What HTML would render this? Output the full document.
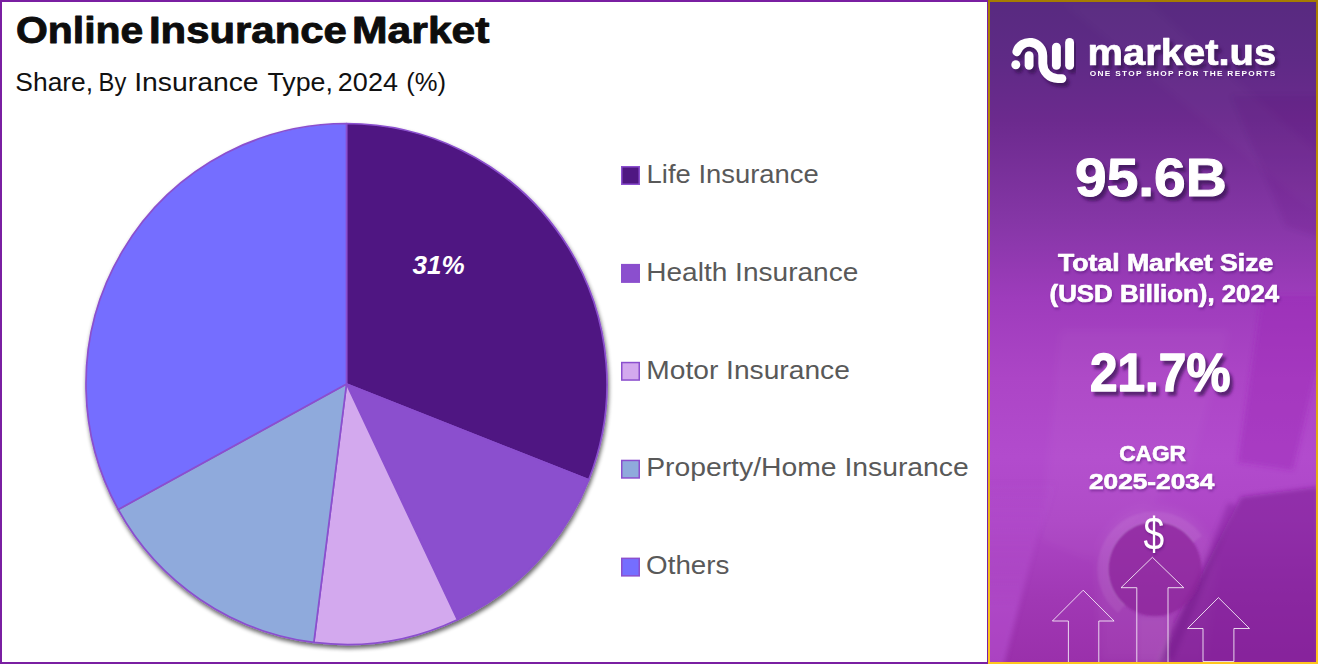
<!DOCTYPE html>
<html lang="en">
<head>
<meta charset="utf-8">
<title>Online Insurance Market</title>
<style>
  html, body { margin: 0; padding: 0; background: #ffffff; }
  body { width: 1318px; height: 664px; overflow: hidden; position: relative; }
  svg { position: absolute; left: 0; top: 0; display: block; }
  text { font-family: "Liberation Sans", sans-serif; }
  .b { font-weight: bold; }
  .leg { fill: #595959; font-size: 25.5px; }
  .w { fill: #ffffff; }
</style>
</head>
<body>
<svg width="1318" height="664" viewBox="0 0 1318 664">
  <defs>
    <linearGradient id="gold" x1="0" y1="0" x2="0" y2="1">
      <stop offset="0" stop-color="#a67c00"/>
      <stop offset="1" stop-color="#ffc61e"/>
    </linearGradient>
    <linearGradient id="panel" x1="0" y1="0" x2="0" y2="1">
      <stop offset="0" stop-color="#582a80"/>
      <stop offset="0.09" stop-color="#5f2a86"/>
      <stop offset="0.18" stop-color="#6c2a8e"/>
      <stop offset="0.33" stop-color="#8536a6"/>
      <stop offset="0.45" stop-color="#9e3cbc"/>
      <stop offset="0.57" stop-color="#ac45c6"/>
      <stop offset="0.69" stop-color="#b24bcd"/>
      <stop offset="0.785" stop-color="#ad46c6"/>
      <stop offset="0.905" stop-color="#a038b4"/>
      <stop offset="1" stop-color="#9a30ab"/>
    </linearGradient>
    <filter id="pieShadow" x="-5%" y="-5%" width="110%" height="110%">
      <feGaussianBlur in="SourceAlpha" stdDeviation="2"/>
      <feOffset dx="0.5" dy="2.5" result="o"/>
      <feComponentTransfer><feFuncA type="linear" slope="0.6"/></feComponentTransfer>
      <feMerge><feMergeNode/><feMergeNode in="SourceGraphic"/></feMerge>
    </filter>
    <filter id="txtShadow" x="-10%" y="-20%" width="120%" height="150%">
      <feGaussianBlur in="SourceAlpha" stdDeviation="1.7"/>
      <feOffset dx="2.5" dy="3.5" result="off"/>
      <feFlood flood-color="#35104f" flood-opacity="0.7"/>
      <feComposite in2="off" operator="in"/>
    </filter>
    <filter id="txtShadowS" x="-10%" y="-30%" width="120%" height="170%">
      <feGaussianBlur in="SourceAlpha" stdDeviation="1.2"/>
      <feOffset dx="1" dy="1.5" result="off"/>
      <feFlood flood-color="#3a0f5c" flood-opacity="0.35"/>
      <feComposite in2="off" operator="in"/>
    </filter>
    <filter id="soft" x="-20%" y="-20%" width="140%" height="140%"><feGaussianBlur stdDeviation="5"/></filter>
    <filter id="soft3" x="-20%" y="-20%" width="140%" height="140%"><feGaussianBlur stdDeviation="2.5"/></filter>
    <filter id="soft2" x="-20%" y="-20%" width="140%" height="140%"><feGaussianBlur stdDeviation="1.3"/></filter>
    <linearGradient id="arrowFill" gradientUnits="userSpaceOnUse" x1="0" y1="560" x2="0" y2="664">
      <stop offset="0" stop-color="#ffffff" stop-opacity="0"/>
      <stop offset="1" stop-color="#ffffff" stop-opacity="0.12"/>
    </linearGradient>
    <linearGradient id="paperFill" gradientUnits="userSpaceOnUse" x1="0" y1="480" x2="0" y2="610">
      <stop offset="0" stop-color="#c25ee0" stop-opacity="0"/>
      <stop offset="1" stop-color="#c25ee0" stop-opacity="0.42"/>
    </linearGradient>
    <clipPath id="rpClip"><rect x="990" y="2" width="326" height="660"/></clipPath>
  </defs>

  <!-- ===== left panel frame ===== -->
  <rect x="1" y="1" width="987" height="662" fill="#ffffff" stroke="#7a1fa2" stroke-width="2"/>

  <!-- ===== pie ===== -->
  <g id="pie" filter="url(#pieShadow)" stroke="#8b4fce" stroke-width="1.7" stroke-linejoin="round">
    <path d="M346.5 384L346.50 123.50A260.5 260.5 0 0 1 588.71 479.90Z" fill="#4f1782"/>
    <path d="M346.5 384L588.71 479.90A260.5 260.5 0 0 1 457.42 619.71Z" fill="#8b4fce"/>
    <path d="M346.5 384L457.42 619.71A260.5 260.5 0 0 1 313.85 642.45Z" fill="#d3a9ee"/>
    <path d="M346.5 384L313.85 642.45A260.5 260.5 0 0 1 118.22 509.50Z" fill="#8faadc"/>
    <path d="M346.5 384L118.22 509.50A260.5 260.5 0 0 1 346.50 123.50Z" fill="#756eff"/>
  </g>
  <!-- ===== legend ===== -->
  <g stroke="#8b4fce" stroke-width="1.5">
    <rect x="621.75" y="166.75" width="17.5" height="17.5" fill="#4f1782"/>
    <rect x="621.75" y="264.65" width="17.5" height="17.5" fill="#8b4fce"/>
    <rect x="621.75" y="362.55" width="17.5" height="17.5" fill="#d3a9ee"/>
    <rect x="621.75" y="460.45" width="17.5" height="17.5" fill="#8faadc"/>
    <rect x="621.75" y="558.35" width="17.5" height="17.5" fill="#756eff"/>
  </g>
  <!-- ===== left panel text ===== -->
  <g id="leftText">
    <text x="16.01" y="43.0" font-size="37.5" fill="#0d0d0d" textLength="127.31" lengthAdjust="spacingAndGlyphs" font-weight="bold" stroke="#0d0d0d" stroke-width="0.9" stroke-linejoin="round">Online</text>
    <text x="148.97" y="43.0" font-size="37.5" fill="#0d0d0d" textLength="197.85" lengthAdjust="spacingAndGlyphs" font-weight="bold" stroke="#0d0d0d" stroke-width="0.9" stroke-linejoin="round">Insurance</text>
    <text x="352.02" y="43.0" font-size="37.5" fill="#0d0d0d" textLength="137.54" lengthAdjust="spacingAndGlyphs" font-weight="bold" stroke="#0d0d0d" stroke-width="0.9" stroke-linejoin="round">Market</text>
    <text x="15.38" y="91.1" font-size="25.0" fill="#111111" textLength="77.71" lengthAdjust="spacingAndGlyphs">Share,</text>
    <text x="98.6" y="91.1" font-size="25.0" fill="#111111" textLength="27.67" lengthAdjust="spacingAndGlyphs">By</text>
    <text x="134.15" y="91.1" font-size="25.0" fill="#111111" textLength="124.44" lengthAdjust="spacingAndGlyphs">Insurance</text>
    <text x="267.46" y="91.1" font-size="25.0" fill="#111111" textLength="65.44" lengthAdjust="spacingAndGlyphs">Type,</text>
    <text x="337.85" y="91.1" font-size="25.0" fill="#111111" textLength="60.1" lengthAdjust="spacingAndGlyphs">2024</text>
    <text x="406.26" y="91.1" font-size="25.0" fill="#111111" textLength="39.82" lengthAdjust="spacingAndGlyphs">(%)</text>
    <text x="412.56" y="273.9" font-size="26.7" fill="#ffffff" textLength="52.1" lengthAdjust="spacingAndGlyphs" font-weight="bold" font-style="italic">31%</text>
    <text x="646.63" y="182.7" font-size="25.3" fill="#595959" textLength="172.14" lengthAdjust="spacingAndGlyphs">Life Insurance</text>
    <text x="646.28" y="280.6" font-size="25.3" fill="#595959" textLength="212.03" lengthAdjust="spacingAndGlyphs">Health Insurance</text>
    <text x="646.27" y="378.5" font-size="25.3" fill="#595959" textLength="203.59" lengthAdjust="spacingAndGlyphs">Motor Insurance</text>
    <text x="646.16" y="476.4" font-size="25.3" fill="#595959" textLength="322.54" lengthAdjust="spacingAndGlyphs">Property/Home Insurance</text>
    <text x="646.13" y="574.3" font-size="25.3" fill="#595959" textLength="83.28" lengthAdjust="spacingAndGlyphs">Others</text>
  </g>

  <!-- ===== right panel ===== -->
  <g id="rp">
    <rect x="988" y="0" width="330" height="664" fill="url(#gold)"/>
    <rect x="990" y="2" width="326" height="660" fill="url(#panel)"/>
    <g clip-path="url(#rpClip)">
      <!-- soft photo-like shapes -->
      <g filter="url(#soft)">
        <polygon points="1060,2 1150,2 1316,150 1316,215" fill="#ffffff" opacity="0.02"/>
        <polygon points="1060,330 1230,330 1190,470 1090,560 1040,540" fill="#ffffff" opacity="0.03"/>
        <path d="M1097 568 A60 62 0 0 1 1217 568 L1205 662 L1100 662 Z" fill="#ffffff" opacity="0.05"/>
      </g>
      <g filter="url(#soft3)">
        <polygon points="984,470 1062,470 1036,540 1003,668 984,668" fill="url(#paperFill)"/>
        <polygon points="1262,296 1322,296 1322,345 1293,470 1238,462" fill="#9a22b6" opacity="0.42"/>
        <polygon points="1232,96 1322,96 1322,238 1286,226" fill="#4a1070" opacity="0.10"/>
        <polygon points="1318,487 1241,497 1222,535 1203,572 1186,599 1169,635 1158,664 1318,664" fill="#74178c" opacity="0.5"/>
        <polygon points="1236,505 1228,503 1166,655 1172,662" fill="#5c0f78" opacity="0.25"/>
        <rect x="1137" y="616" width="31" height="48" fill="#ffffff" opacity="0.08"/>
      </g>
      <g filter="url(#soft2)">
        <path d="M1121.6 608.8 A52 52 0 1 1 1197.6 539.2" fill="none" stroke="#ffffff" stroke-width="11" opacity="0.065"/>
        <ellipse cx="1155" cy="569" rx="46.5" ry="47" fill="#8a2499" opacity="0.7"/>
      </g>
    </g>

    <!-- arrows -->
    <g fill="none" stroke="#ffffff" stroke-opacity="0.9" stroke-width="0.9" stroke-linejoin="miter">
      <path d="M1152.4 557.3 L1183.8 587.7 L1168 587.7 L1168 664 L1136.8 664 L1136.8 587.7 L1121 587.7 Z"/>
      <path d="M1083.2 590.2 L1114.1 621 L1098.8 621 L1098.8 664 L1068.4 664 L1068.4 621 L1052.4 621 Z"/>
      <path d="M1218.4 597.6 L1249.5 628.5 L1233.9 628.5 L1233.9 661.5 L1203 661.5 L1203 628.5 L1187.5 628.5 Z"/>
    </g>
    <rect x="988" y="662" width="330" height="2" fill="#ffc61e"/>

    <!-- logo mark (shadow + white) -->
    <g id="logoShadow" filter="url(#txtShadow)">
    <g id="logoMarkShadowSrc" fill="none" stroke="#ffffff" stroke-width="8.9" stroke-linecap="round" stroke-linejoin="round">
      <path d="M1016.8 51.7 A13.3 13.3 0 0 1 1042.8 55.7 L1042.8 63.6 A15 15 0 0 0 1057.8 78.6 L1061.9 78.6"/>
      <path d="M1029.1 55.7 L1029.1 65.3"/>
      <path d="M1056.4 47.1 L1056.4 65.3"/>
      <path d="M1069.6 42.4 L1069.6 65.3"/>
      <circle cx="1015.8" cy="64.8" r="4.5" fill="#ffffff" stroke="none"/>
    </g>
    </g>
    <g id="logoMark" fill="none" stroke="#ffffff" stroke-width="8.9" stroke-linecap="round" stroke-linejoin="round">
      <path d="M1016.8 51.7 A13.3 13.3 0 0 1 1042.8 55.7 L1042.8 63.6 A15 15 0 0 0 1057.8 78.6 L1061.9 78.6"/>
      <path d="M1029.1 55.7 L1029.1 65.3"/>
      <path d="M1056.4 47.1 L1056.4 65.3"/>
      <path d="M1069.6 42.4 L1069.6 65.3"/>
      <circle cx="1015.8" cy="64.8" r="4.5" fill="#ffffff" stroke="none"/>
    </g>

    <!-- text shadows then text -->
    <g filter="url(#txtShadow)">
    <text x="1087.61" y="64.6" font-size="36.4" fill="#ffffff" textLength="188.6" lengthAdjust="spacingAndGlyphs" font-weight="bold" stroke="#ffffff" stroke-width="0.7" stroke-linejoin="round">market.us</text>
    <text x="1075.03" y="196.0" font-size="54.5" fill="#ffffff" textLength="151.79" lengthAdjust="spacingAndGlyphs" font-weight="bold" stroke="#ffffff" stroke-width="1.0" stroke-linejoin="round">95.6B</text>
    <text x="1090.07" y="391.0" font-size="53.4" fill="#ffffff" textLength="140.32" lengthAdjust="spacingAndGlyphs" font-weight="bold" stroke="#ffffff" stroke-width="1.5" stroke-linejoin="round">21.7%</text>
    </g>
    <g filter="url(#txtShadowS)">
    <text x="1089.83" y="76.0" font-size="7.7" fill="#ffffff" textLength="186.64" lengthAdjust="spacingAndGlyphs" font-weight="bold" letter-spacing="1.2">ONE STOP SHOP FOR THE REPORTS</text>
    <text x="1058.0" y="271.3" font-size="23.8" fill="#ffffff" textLength="215.34" lengthAdjust="spacingAndGlyphs" font-weight="bold" stroke="#ffffff" stroke-width="0.7" stroke-linejoin="round">Total Market Size</text>
    <text x="1049.59" y="301.6" font-size="23.8" fill="#ffffff" textLength="229.63" lengthAdjust="spacingAndGlyphs" font-weight="bold" stroke="#ffffff" stroke-width="0.7" stroke-linejoin="round">(USD Billion), 2024</text>
    <text x="1119.2" y="461.0" font-size="22.8" fill="#ffffff" textLength="66.77" lengthAdjust="spacingAndGlyphs" font-weight="bold" stroke="#ffffff" stroke-width="0.7" stroke-linejoin="round">CAGR</text>
    <text x="1089.02" y="488.7" font-size="22.8" fill="#ffffff" textLength="125.42" lengthAdjust="spacingAndGlyphs" font-weight="bold" stroke="#ffffff" stroke-width="0.7" stroke-linejoin="round">2025-2034</text>
    <text x="1143.39" y="549.8" font-size="45.8" fill="#ffffff" textLength="20.7" lengthAdjust="spacingAndGlyphs">$</text>
    </g>
    <g>
    <text x="1087.61" y="64.6" font-size="36.4" fill="#ffffff" textLength="188.6" lengthAdjust="spacingAndGlyphs" font-weight="bold" stroke="#ffffff" stroke-width="0.7" stroke-linejoin="round">market.us</text>
    <text x="1075.03" y="196.0" font-size="54.5" fill="#ffffff" textLength="151.79" lengthAdjust="spacingAndGlyphs" font-weight="bold" stroke="#ffffff" stroke-width="1.0" stroke-linejoin="round">95.6B</text>
    <text x="1090.07" y="391.0" font-size="53.4" fill="#ffffff" textLength="140.32" lengthAdjust="spacingAndGlyphs" font-weight="bold" stroke="#ffffff" stroke-width="1.5" stroke-linejoin="round">21.7%</text>
    <text x="1089.83" y="76.0" font-size="7.7" fill="#ffffff" textLength="186.64" lengthAdjust="spacingAndGlyphs" font-weight="bold" letter-spacing="1.2">ONE STOP SHOP FOR THE REPORTS</text>
    <text x="1058.0" y="271.3" font-size="23.8" fill="#ffffff" textLength="215.34" lengthAdjust="spacingAndGlyphs" font-weight="bold" stroke="#ffffff" stroke-width="0.7" stroke-linejoin="round">Total Market Size</text>
    <text x="1049.59" y="301.6" font-size="23.8" fill="#ffffff" textLength="229.63" lengthAdjust="spacingAndGlyphs" font-weight="bold" stroke="#ffffff" stroke-width="0.7" stroke-linejoin="round">(USD Billion), 2024</text>
    <text x="1119.2" y="461.0" font-size="22.8" fill="#ffffff" textLength="66.77" lengthAdjust="spacingAndGlyphs" font-weight="bold" stroke="#ffffff" stroke-width="0.7" stroke-linejoin="round">CAGR</text>
    <text x="1089.02" y="488.7" font-size="22.8" fill="#ffffff" textLength="125.42" lengthAdjust="spacingAndGlyphs" font-weight="bold" stroke="#ffffff" stroke-width="0.7" stroke-linejoin="round">2025-2034</text>
    <text x="1143.39" y="549.8" font-size="45.8" fill="#ffffff" textLength="20.7" lengthAdjust="spacingAndGlyphs">$</text>
    </g>
  </g>
</svg>
</body>
</html>
